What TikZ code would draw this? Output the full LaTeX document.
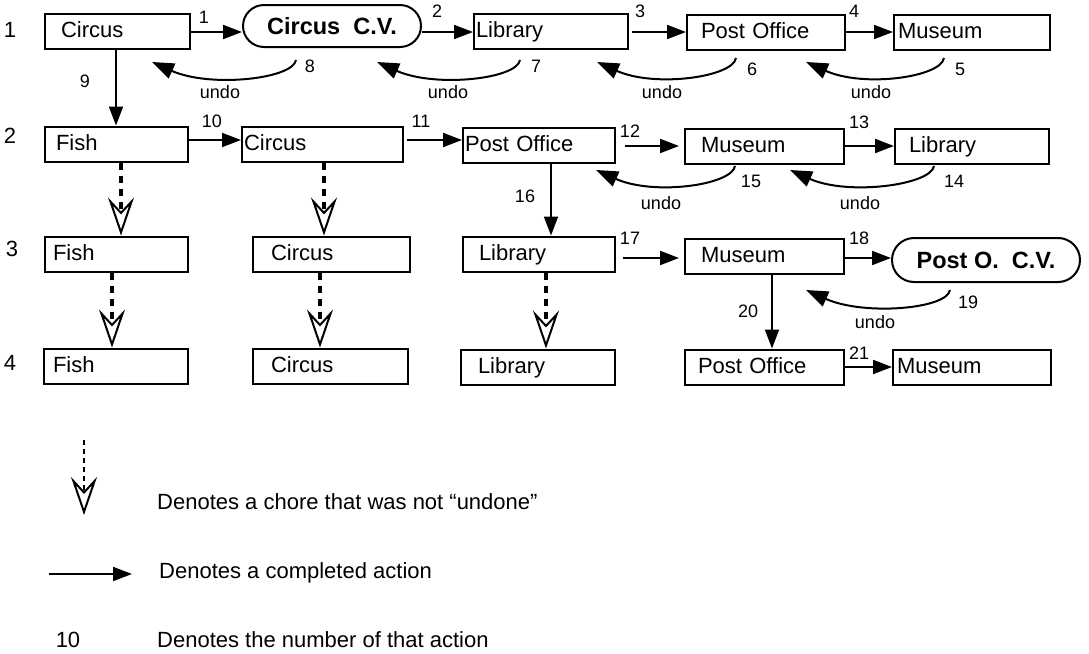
\documentclass[tikz,border=0pt]{standalone}
\usepackage{fontspec}
\setmainfont{Liberation Sans}
\usetikzlibrary{arrows.meta,shapes.misc,calc}
\newcommand{\fbig}{\fontsize{22}{25}\selectfont}
\newcommand{\fsm}{\fontsize{18}{21}\selectfont}
\newcommand{\fbd}{\fontsize{23.5}{27}\selectfont\bfseries}
\begin{document}
\begin{tikzpicture}[x=1pt,y=-1pt,
  every node/.style={inner sep=0pt},
  box/.style={draw, line width=2pt, minimum height=35pt, anchor=west, align=left,
    font=\fbig, text height=16pt, text depth=4pt, inner ysep=0pt},
  oval/.style={draw, line width=2pt, rounded rectangle, font=\fbd, inner sep=0pt},
  rowlbl/.style={font=\fbig},
  num/.style={font=\fsm},
  undolbl/.style={font=\fsm},
  act/.style={line width=2pt, -{Triangle[length=19pt,width=14pt]}},
  undoarc/.style={line width=2pt, -{Triangle[length=22pt,width=16pt]}},
  kept/.style={line width=4pt, dash pattern=on 7pt off 6pt,
    -{Stealth[open, length=38pt, width=26pt, inset=14pt, line width=2pt]}},
  keptthin/.style={line width=1.6pt, dash pattern=on 5pt off 4pt,
    -{Stealth[open, length=38pt, width=26pt, inset=14pt, line width=2pt]}},
  legtext/.style={font=\fbig, anchor=west}
]
\path[fill=white, use as bounding box] (0,0) rectangle (1089,653);

% row labels
\node[rowlbl] (r1) at (10,30) {1};
\node[rowlbl] (r2) at (10,136) {2};
\node[rowlbl] (r3) at (12,249) {3};
\node[rowlbl] (r4) at (10,363) {4};

% row 1
\node[box, inner xsep=16pt, text width=113pt] (c1) at (44,31) {Circus};
\node[oval, minimum width=178pt, minimum height=42pt] (cv1) at (332,26) {Circus\ \ C.V.\hspace{22pt}};
\node[box, inner xsep=2pt, text width=150pt] (l1) at (473,31) {Library};
\node[box, inner xsep=14pt, text width=130pt] (p1) at (686,32) {Post Office};
\node[box, inner xsep=4pt, text width=148pt] (m1) at (893,32) {Museum};

% row 2
\node[box, inner xsep=11pt, text width=121pt] (f2) at (44,144) {Fish};
\node[box, inner xsep=2pt, text width=157pt] (c2) at (241,144) {Circus};
\node[box, inner xsep=2pt, text width=148pt] (p2) at (462,145) {Post Office};
\node[box, inner xsep=16pt, text width=127pt] (m2) at (684,146) {Museum};
\node[box, inner xsep=14pt, text width=126pt] (l2) at (894,146) {Library};

% row 3
\node[box, inner xsep=8pt, text width=127pt] (f3) at (44,254) {Fish};
\node[box, inner xsep=18pt, text width=121pt] (c3) at (252,254) {Circus};
\node[box, inner xsep=16pt, text width=120pt] (l3) at (462,254) {Library};
\node[box, inner xsep=16pt, text width=127pt] (m3) at (684,256) {Museum};
\node[oval, minimum width=188pt, minimum height=44pt] (pv3) at (986,260) {Post O.\ \ C.V.\hspace{4pt}};

% row 4
\node[box, inner xsep=9pt, text width=126pt] (f4) at (43,366) {Fish};
\node[box, inner xsep=18pt, text width=119pt] (c4) at (252,366) {Circus};
\node[box, inner xsep=17pt, text width=120pt] (l4) at (460,367) {Library};
\node[box, inner xsep=13pt, text width=133pt] (p4) at (684,367) {Post Office};
\node[box, inner xsep=4pt, text width=150pt] (m4) at (892,367) {Museum};

% completed actions
\draw[act] ([yshift=-1pt]c1.east) -- ([yshift=-1pt]c1.east -| cv1.west);
\draw[act] ([yshift=-1pt]l1.west -| cv1.east) -- ([yshift=-1pt]l1.west);
\draw[act, shorten <=3pt] ([yshift=-1pt]l1.east) -- ([yshift=-1pt]l1.east -| p1.west);
\draw[act] (p1.east) -- (p1.east -| m1.west);
\draw[act] ([xshift=-1.5pt]c1.south) -- ([xshift=-1.5pt]c1.south |- f2.north);
\draw[act] ([yshift=4pt]f2.east) -- ([yshift=4pt]f2.east -| c2.west);
\draw[act, shorten <=3pt] ([yshift=4pt]c2.east) -- ([yshift=4pt]c2.east -| p2.west);
\draw[act, shorten <=9pt, shorten >=5pt] ([yshift=-1pt]p2.east) -- ([yshift=-1pt]p2.east -| m2.west);
\draw[act] (m2.east) -- (m2.east -| l2.west);
\draw[act] ([xshift=12pt]p2.south) -- ([xshift=12pt]p2.south |- l3.north);
\draw[act, shorten <=7pt, shorten >=5pt] ([yshift=-4pt]l3.east) -- ([yshift=-4pt]l3.east -| m3.west);
\draw[act] ([yshift=-2pt]m3.east) -- ([yshift=-2pt]m3.east -| pv3.west);
\draw[act] ([xshift=7.5pt]m3.south) -- ([xshift=7.5pt]m3.south |- p4.north);
\draw[act] (p4.east) -- (p4.east -| m4.west);

% chores not undone
\draw[kept] ([xshift=4.5pt]f2.south) -- ([xshift=4.5pt]f2.south |- f3.north);
\draw[kept] ([xshift=1.5pt]c2.south) -- ([xshift=1.5pt]c2.south |- c3.north);
\draw[kept] ([xshift=-4.5pt]f3.south) -- ([xshift=-4.5pt]f3.south |- f4.north);
\draw[kept] ([xshift=-11.5pt]c3.south) -- ([xshift=-11.5pt]c3.south |- c4.north);
\draw[kept] ([xshift=7pt]l3.south) -- ([xshift=7pt]l3.south |- l4.north);

% undo arcs
\coordinate (u8s) at (296,60);  \coordinate (u8e) at (152,62);
\coordinate (u7s) at (520,60);  \coordinate (u7e) at (377,62);
\coordinate (u6s) at (736,58);  \coordinate (u6e) at (597,62);
\coordinate (u5s) at (944,58);  \coordinate (u5e) at (806,62);
\coordinate (u15s) at (735,166); \coordinate (u15e) at (596,170);
\coordinate (u14s) at (934,166); \coordinate (u14e) at (790,170);
\coordinate (u19s) at (950,290); \coordinate (u19e) at (806,290);
\foreach \a in {8,7,6,5,15,14,19}{
  \draw[undoarc] (u\a s) .. controls +(-3,19) and +(58,26) .. (u\a e);
}

\node[undolbl] (ud8) at (220,92) {undo};
\node[undolbl] (ud7) at (448,92) {undo};
\node[undolbl] (ud6) at (662,92) {undo};
\node[undolbl] (ud5) at (871,92) {undo};
\node[undolbl] (ud15) at (661,203) {undo};
\node[undolbl] (ud14) at (860,203) {undo};
\node[undolbl] (ud19) at (875,322) {undo};

% action numbers
\node[num] (n1) at (204,17) {1};
\node[num] (n2) at (437,11) {2};
\node[num] (n3) at (640,11) {3};
\node[num] (n4) at (854,11) {4};
\node[num] (n5) at (960,69) {5};
\node[num] (n6) at (752,69) {6};
\node[num] (n7) at (536,66) {7};
\node[num] (n8) at (310,66) {8};
\node[num] (n9) at (85,81) {9};
\node[num] (n10) at (212,121) {10};
\node[num] (n11) at (421,121) {11};
\node[num] (n12) at (630,131) {12};
\node[num] (n13) at (859,122) {13};
\node[num] (n14) at (954,181) {14};
\node[num] (n15) at (751,181) {15};
\node[num] (n16) at (525,196) {16};
\node[num] (n17) at (630,238) {17};
\node[num] (n18) at (859,238) {18};
\node[num] (n19) at (968,302) {19};
\node[num] (n20) at (748,311) {20};
\node[num] (n21) at (859,353) {21};

% legend
\coordinate (lgs) at (84,440);
\coordinate (lge) at (84,515);
\draw[keptthin] (lgs) -- (lge);
\node[legtext] (lt1) at (157,502) {Denotes a chore that was not ``undone''};
\coordinate (las) at (49,574);
\coordinate (lae) at (132,574);
\draw[act] (las) -- (lae);
\node[legtext] (lt2) at (159,573) {Denotes a completed action};
\node[font=\fbig] (l10) at (68,640) {10};
\node[legtext] (lt3) at (157,640) {Denotes the number of that action};
\end{tikzpicture}
\end{document}
